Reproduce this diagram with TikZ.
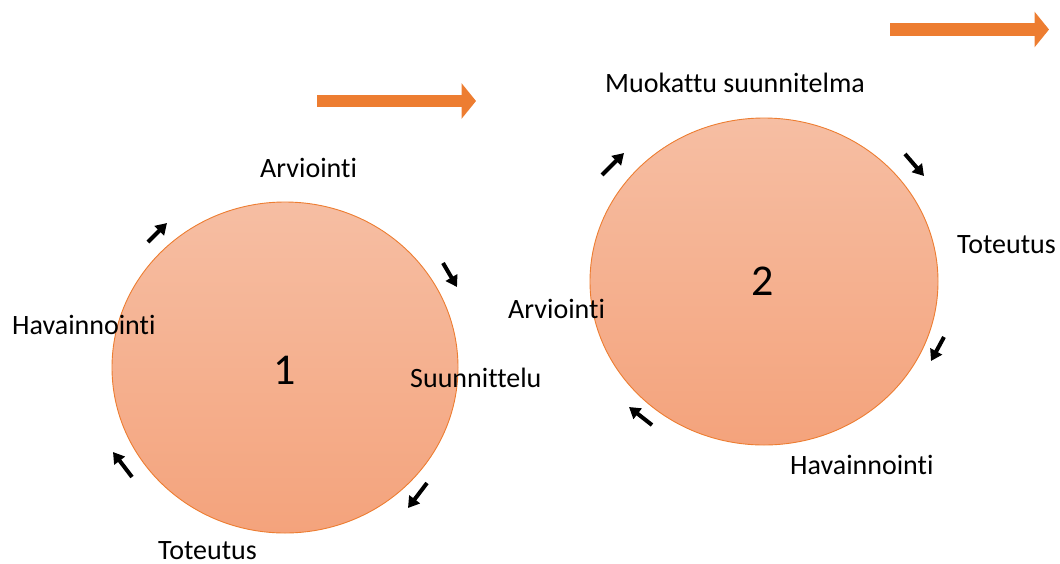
\documentclass[tikz,border=0pt]{standalone}
\usepackage{fontspec}
\setmainfont{Carlito}[Ligatures=NoCommon]
\usetikzlibrary{arrows.meta,shapes.geometric}
\definecolor{accent}{HTML}{ED7D31}
\definecolor{disctop}{HTML}{F6BEA3}
\definecolor{discbot}{HTML}{F4A37C}
\tikzset{
  disc/.style={ellipse, draw=accent, line width=0.9pt, top color=disctop,
    bottom color=discbot, inner sep=0pt},
  digit/.style={font=\fontsize{44}{48}\selectfont},
  lbl/.style={anchor=base west, inner sep=0pt, font=\fontsize{28}{30}\selectfont},
  turn/.style={line width=4pt, -{Triangle[length=11pt,width=13pt]}},
  stage/.style={draw=accent, line width=12.5pt, -{Triangle[length=14.5pt,width=35pt]}, shorten >=-2pt}
}
\begin{document}
\begin{tikzpicture}[x=1pt,y=-1pt]
  \useasboundingbox (0,0) rectangle (1060,563);

  % first cycle
  \node[disc, minimum width=346pt, minimum height=331pt] (c1) at (285,367.5) {};
  \node[digit] (n1) at (285,370) {1};
  \node[lbl] (a1) at (260,177) {Arviointi};
  \node[lbl] (s1) at (410,387) {Suunnittelu};
  \node[lbl] (t1) at (158,559) {Toteutus};
  \node[lbl] (h1) at (12,334) {Havainnointi};

  \coordinate (p1a) at (148,242); \coordinate (p1b) at (167,223);
  \coordinate (p2a) at (443,263); \coordinate (p2b) at (457,287);
  \coordinate (p3a) at (427,483); \coordinate (p3b) at (408,508);
  \coordinate (p4a) at (132,477); \coordinate (p4b) at (113,452);
  \draw[turn] (p1a) -- (p1b);
  \draw[turn] (p2a) -- (p2b);
  \draw[turn] (p3a) -- (p3b);
  \draw[turn] (p4a) -- (p4b);

  % second cycle
  \node[disc, minimum width=348pt, minimum height=327pt] (c2) at (764,281.5) {};
  \node[digit] (n2) at (763,281) {2};
  \node[lbl] (m2) at (605,92) {Muokattu suunnitelma};
  \node[lbl] (t2) at (957,253) {Toteutus};
  \node[lbl] (h2) at (790,474) {Havainnointi};
  \node[lbl] (a2) at (508,318) {Arviointi};

  \coordinate (q1a) at (602,175); \coordinate (q1b) at (624,153);
  \coordinate (q2a) at (905,154); \coordinate (q2b) at (924,176);
  \coordinate (q3a) at (944,337); \coordinate (q3b) at (931,361);
  \coordinate (q4a) at (652,425); \coordinate (q4b) at (629,407);
  \draw[turn] (q1a) -- (q1b);
  \draw[turn] (q2a) -- (q2b);
  \draw[turn] (q3a) -- (q3b);
  \draw[turn] (q4a) -- (q4b);

  % progression arrows
  \coordinate (g1a) at (317,101); \coordinate (g1b) at (474,101);
  \coordinate (g2a) at (890,29.5); \coordinate (g2b) at (1047,29.5);
  \draw[stage] (g1a) -- (g1b);
  \draw[stage] (g2a) -- (g2b);
\end{tikzpicture}
\end{document}
